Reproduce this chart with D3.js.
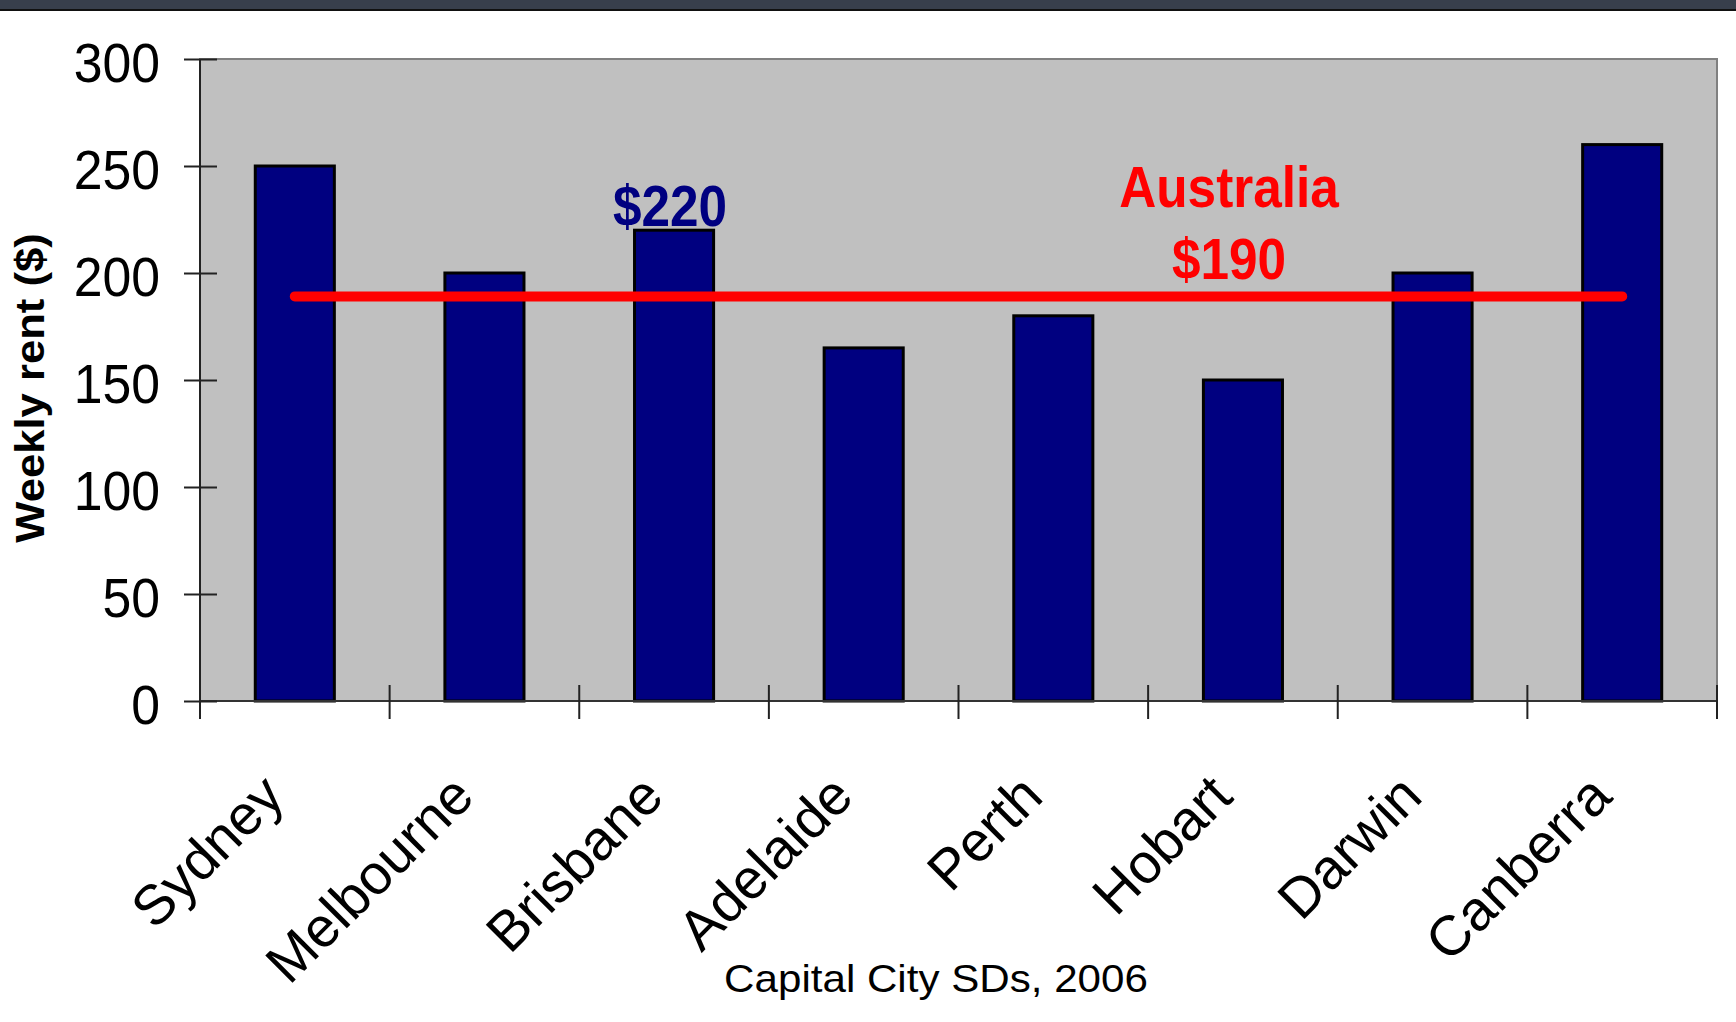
<!DOCTYPE html>
<html lang="en">
<head>
<meta charset="UTF-8">
<title>Weekly rent, Capital City SDs 2006</title>
<style>
  body { margin: 0; background: #fff; }
  text { font-family: "Liberation Sans", Arial, sans-serif; }
</style>
</head>
<body>
<svg id="chart" width="1736" height="1022"></svg>
<script src="https://d3js.org/d3.v7.min.js"></script>
<script>
// data
var cities = ["Sydney", "Melbourne", "Brisbane", "Adelaide", "Perth", "Hobart", "Darwin", "Canberra"];
var rent = [250, 200, 220, 165, 180, 150, 200, 260];
var australiaRent = 190;
var yTicks = [0, 50, 100, 150, 200, 250, 300];

var svg = d3.select("#chart");
var plot = {left: 200, right: 1717, top: 59, bottom: 701};

// squeeze / stretch text to fit the look of the original slide
function fit(sel, f, adjust) {
  sel.each(function () {
    var w = this.getComputedTextLength();
    d3.select(this).attr("textLength", w * f).attr("lengthAdjust", adjust || "spacingAndGlyphs");
  });
}

// dark strip at the top of the slide
svg.append("rect").attr("x", 0).attr("y", 0).attr("width", 1736).attr("height", 9).attr("fill", "#383f4c");
svg.append("line").attr("x1", 0).attr("x2", 1736).attr("y1", 10).attr("y2", 10)
  .attr("stroke", "#111").attr("stroke-width", 2);

var x = d3.scaleBand()
  .domain(cities)
  .range([plot.left, plot.right])
  .paddingInner(0.583)
  .paddingOuter(0.2915);

var y = d3.scaleLinear()
  .domain([0, 300])
  .range([plot.bottom, plot.top]);

// plot area
svg.append("rect")
  .attr("x", plot.left).attr("y", plot.top)
  .attr("width", plot.right - plot.left).attr("height", plot.bottom - plot.top)
  .attr("fill", "#c0c0c0").attr("stroke", "#808080").attr("stroke-width", 2);

// bars
svg.append("g").selectAll("rect")
  .data(rent)
  .enter()
  .append("rect")
  .attr("x", function (d, i) { return x(cities[i]); })
  .attr("y", function (d) { return y(d); })
  .attr("width", x.bandwidth())
  .attr("height", function (d) { return y(0) - y(d); })
  .attr("fill", "#000080")
  .attr("stroke", "#000")
  .attr("stroke-width", 3);

// axis lines
svg.append("line").attr("x1", plot.left).attr("x2", plot.left).attr("y1", plot.top).attr("y2", plot.bottom)
  .attr("stroke", "#222").attr("stroke-width", 2);
svg.append("line").attr("x1", plot.left).attr("x2", plot.right).attr("y1", plot.bottom).attr("y2", plot.bottom)
  .attr("stroke", "#333").attr("stroke-width", 2);

// y axis (ticks cross the axis line)
var yAxis = svg.append("g")
  .attr("transform", "translate(" + (plot.left + 17) + ",0)")
  .call(d3.axisLeft(y).tickValues(yTicks).tickSize(33).tickPadding(24));
yAxis.select(".domain").remove();
yAxis.selectAll(".tick line").attr("stroke", "#222").attr("stroke-width", 2);
yAxis.selectAll(".tick text")
  .attr("font-family", "Liberation Sans, Arial, sans-serif")
  .attr("font-size", 55)
  .attr("fill", "#000")
  .attr("dy", "0.4em");
fit(yAxis.selectAll(".tick text"), 0.94);

// x ticks at category boundaries
svg.append("g").selectAll("line")
  .data(d3.range(cities.length + 1))
  .enter()
  .append("line")
  .attr("x1", function (i) { return x.range()[0] + i * x.step(); })
  .attr("x2", function (i) { return x.range()[0] + i * x.step(); })
  .attr("y1", plot.bottom - 16)
  .attr("y2", plot.bottom + 18)
  .attr("stroke", "#222").attr("stroke-width", 2);

// x labels
svg.append("g").selectAll("text")
  .data(cities)
  .enter()
  .append("text")
  .attr("transform", function (d) {
    return "translate(" + (x(d) + x.bandwidth() / 2 - 8) + "," + 799 + ") rotate(-45)";
  })
  .attr("text-anchor", "end")
  .attr("font-size", 56)
  .attr("fill", "#000")
  .text(function (d) { return d; });

// Australia average line
svg.append("line")
  .attr("x1", x(cities[0]) + x.bandwidth() / 2)
  .attr("x2", x(cities[cities.length - 1]) + x.bandwidth() / 2)
  .attr("y1", y(australiaRent) + 2)
  .attr("y2", y(australiaRent) + 2)
  .attr("stroke", "#ff0000")
  .attr("stroke-width", 10)
  .attr("stroke-linecap", "round");

var ausLabel = svg.append("g").attr("font-weight", "bold").attr("fill", "#ff0000").attr("font-size", 57)
  .attr("text-anchor", "middle");
ausLabel.append("text").attr("x", 1229).attr("y", 207).text("Australia");
ausLabel.append("text").attr("x", 1229).attr("y", 279).text("$" + australiaRent);
fit(ausLabel.selectAll("text"), 0.9);

// Brisbane value label
var bris = svg.append("text")
  .attr("x", x("Brisbane") + x.bandwidth() / 2 - 4)
  .attr("y", y(rent[2]) - 4)
  .attr("text-anchor", "middle")
  .attr("font-weight", "bold")
  .attr("font-size", 57)
  .attr("fill", "#000080")
  .text("$" + rent[2]);
fit(bris, 0.9);

// axis titles
var yTitle = svg.append("text")
  .attr("transform", "translate(44,388) rotate(-90)")
  .attr("text-anchor", "middle")
  .attr("font-weight", "bold")
  .attr("font-size", 40)
  .attr("fill", "#000")
  .text("Weekly rent ($)");
fit(yTitle, 1.09);

var xTitle = svg.append("text")
  .attr("x", 936)
  .attr("y", 992)
  .attr("text-anchor", "middle")
  .attr("font-size", 39)
  .attr("fill", "#000")
  .text("Capital City SDs, 2006");
fit(xTitle, 1.08);
</script>
</body>
</html>
